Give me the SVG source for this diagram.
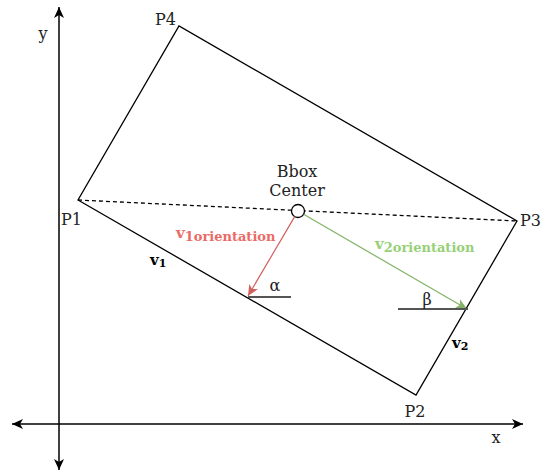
<svg xmlns="http://www.w3.org/2000/svg" width="541" height="472" viewBox="0 0 541 472">
<style>
.t{font-family:"DejaVu Serif","Liberation Serif",serif;font-size:16px;fill:#222}
.b{font-family:"DejaVu Serif","Liberation Serif",serif;font-weight:bold}
.ax{stroke:#000;stroke-width:1.5;fill:none}
.edge{stroke:#000;stroke-width:1.3;fill:none}
.ang{stroke:#555;stroke-width:2;fill:none}
</style>
<defs>
<marker id="ah" markerUnits="userSpaceOnUse" markerWidth="12" markerHeight="10" refX="11" refY="5" orient="auto-start-reverse"><path d="M0,0 L11,5 L0,10 L3,5 z" fill="#000"/></marker>
<marker id="ahr" markerUnits="userSpaceOnUse" markerWidth="12" markerHeight="10" refX="11" refY="5" orient="auto"><path d="M0,0 L11,5 L0,10 L3,5 z" fill="#d0605c"/></marker>
<marker id="ahg" markerUnits="userSpaceOnUse" markerWidth="12" markerHeight="10" refX="11" refY="5" orient="auto"><path d="M0,0 L11,5 L0,10 L3,5 z" fill="#82b366"/></marker>
</defs>
<g id="axes">
<line class="ax" x1="59" y1="470" x2="59" y2="7" marker-start="url(#ah)" marker-end="url(#ah)"/>
<line class="ax" x1="12" y1="424" x2="523" y2="424" marker-start="url(#ah)" marker-end="url(#ah)"/>
<text class="t" x="43" y="39" text-anchor="middle">y</text>
<text class="t" x="496" y="443" text-anchor="middle">x</text>
</g>
<g id="bbox">
<polygon class="edge" points="78,200 416,395 517,221 179,26"/>
<line x1="78" y1="200" x2="517" y2="221" stroke="#000" stroke-width="1.3" stroke-dasharray="4 3"/>
<text class="t" x="176" y="25" text-anchor="end">P4</text>
<text class="t" x="61" y="225">P1</text>
<text class="t" x="520" y="226" font-size="15">P3</text>
<text class="t" x="415" y="417" text-anchor="middle">P2</text>
<text class="b" x="150" y="265" font-size="15" fill="#000">v<tspan font-size="11" dy="2">1</tspan></text>
<text class="b" x="452" y="348" font-size="15" fill="#000">v<tspan font-size="11" dy="2">2</tspan></text>
</g>
<g id="center">
<circle cx="298" cy="211" r="6.5" fill="#fff" stroke="#000" stroke-width="1.3"/>
<text class="t" x="297" y="177" text-anchor="middle">Bbox</text>
<text class="t" x="297" y="196" text-anchor="middle">Center</text>
</g>
<g id="connectors">
<line x1="294.7" y1="216.6" x2="248" y2="296" stroke="#d0605c" stroke-width="1.2" marker-end="url(#ahr)"/>
<line x1="303.6" y1="214.3" x2="467" y2="309" stroke="#82b366" stroke-width="1.2" marker-end="url(#ahg)"/>
</g>
<g id="alpha">
<line class="ang" x1="248" y1="297" x2="291" y2="297"/>
<text class="t" x="275" y="291" text-anchor="middle">α</text>
</g>
<g id="beta">
<line class="ang" x1="398" y1="309" x2="468" y2="309"/>
<text class="t" x="427" y="305" text-anchor="middle">β</text>
</g>
<g id="labels">
<text class="b" x="176" y="238" font-size="15" fill="#ea6b66">v<tspan font-size="13" dy="2.5">1orientation</tspan></text>
<text class="b" x="375" y="249" font-size="15" fill="#97d077">v<tspan font-size="13" dy="2.5">2orientation</tspan></text>
</g>
</svg>
